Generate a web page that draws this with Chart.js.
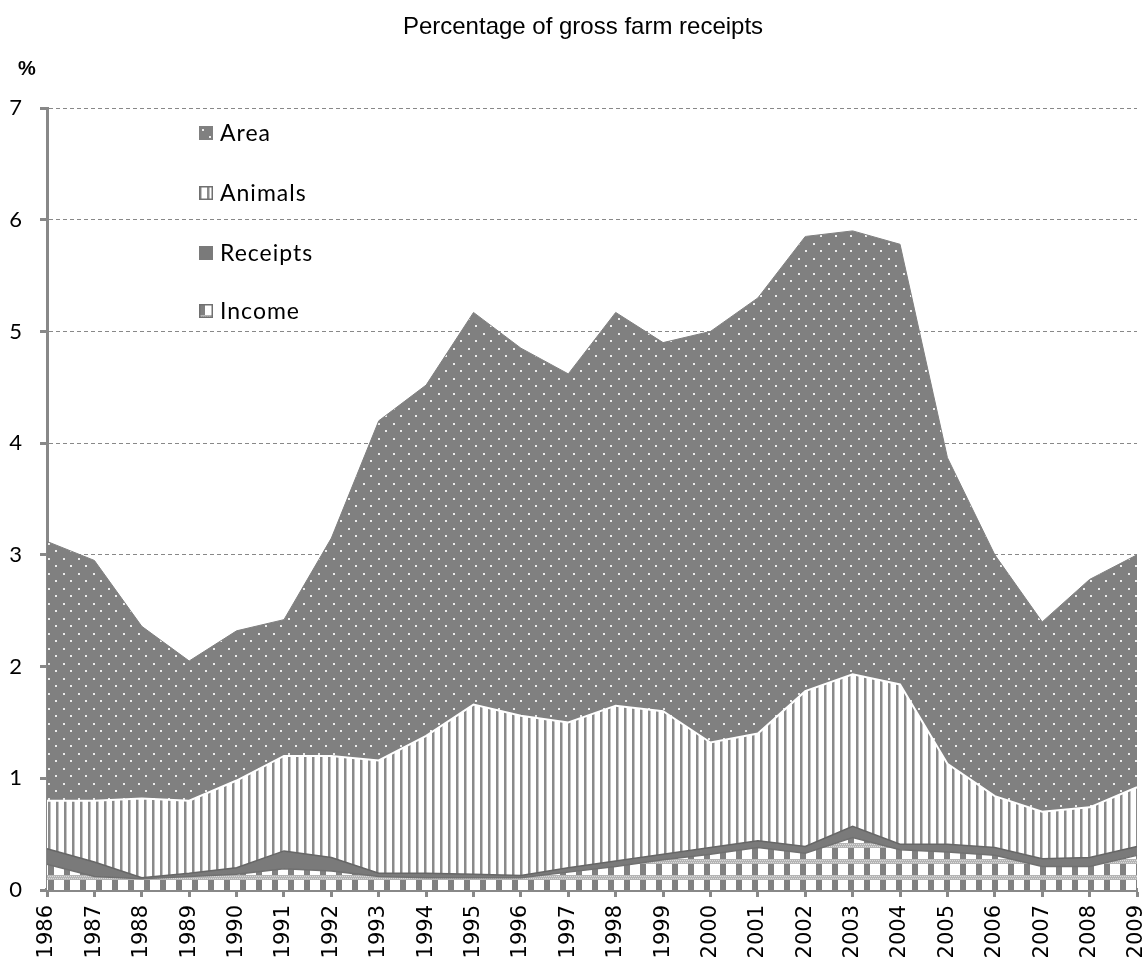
<!DOCTYPE html>
<html>
<head>
<meta charset="utf-8">
<script src="https://cdn.jsdelivr.net/npm/chart.js@4"></script>
<style>
  html, body { margin: 0; padding: 0; background: #fff; }
  #wrap { width: 1147px; height: 961px; position: relative; }
</style>
</head>
<body>
<div id="wrap"><canvas id="farm" width="1147" height="961"></canvas></div>
<script>
// Percentage of gross farm receipts, 1986-2009
var years = ["1986","1987","1988","1989","1990","1991","1992","1993","1994","1995","1996","1997",
             "1998","1999","2000","2001","2002","2003","2004","2005","2006","2007","2008","2009"];

var income   = [0.23,0.12,0.10,0.12,0.14,0.19,0.17,0.12,0.11,0.11,0.11,0.16,0.21,0.27,0.32,0.38,0.33,0.47,0.36,0.34,0.31,0.21,0.21,0.31];
var receipts = [0.14,0.13,0.01,0.03,0.06,0.16,0.12,0.03,0.04,0.03,0.02,0.04,0.05,0.05,0.06,0.06,0.06,0.10,0.05,0.07,0.07,0.07,0.08,0.08];
var animals  = [0.43,0.55,0.71,0.65,0.78,0.85,0.91,1.01,1.23,1.52,1.43,1.30,1.39,1.28,0.94,0.96,1.39,1.36,1.43,0.72,0.46,0.42,0.45,0.53];
var area     = [2.32,2.15,1.54,1.25,1.34,1.22,1.95,3.04,3.14,3.51,3.29,3.12,3.52,3.30,3.68,3.90,4.07,3.97,3.94,2.74,2.16,1.70,2.04,2.08];

var yTicks = [0,1,2,3,4,5,6,7];

var GREY = '#808080';

// ---- fill patterns (Excel style)
function makePattern(w, h, draw) {
	var c = document.createElement('canvas');
	c.width = w; c.height = h;
	var g = c.getContext('2d');
	draw(g);
	return g.createPattern(c, 'repeat');
}

var dotsPat = makePattern(15, 15, function(g) {
	g.fillStyle = GREY; g.fillRect(0, 0, 15, 15);
	g.fillStyle = '#ececec';
	g.fillRect(3, 3, 2, 2);
	g.fillRect(10, 10, 2, 2);
});

var stripePat = makePattern(8, 4, function(g) {
	g.fillStyle = '#fff'; g.fillRect(0, 0, 8, 4);
	g.fillStyle = '#8a8a8a'; g.fillRect(0, 0, 2, 4);
	g.fillStyle = '#c4c4c4'; g.fillRect(2, 0, 1, 4);
});

var checkPat = makePattern(16, 16, function(g) {
	g.fillStyle = '#fff'; g.fillRect(0, 0, 16, 16);
	g.fillStyle = GREY; g.fillRect(0, 0, 6, 11);
	g.fillStyle = '#b4b4b4'; g.fillRect(0, 11, 16, 5);
	g.fillStyle = '#dcdcdc';
	for (var i = 0; i < 16; i += 2) { g.fillRect(i, 12, 1, 1); g.fillRect(i + 1, 14, 1, 1); }
});

// ---- legend drawn inside the plot, order top->bottom: Area, Animals, Receipts, Income
var insideLegend = {
	id: 'insideLegend',
	afterDraw: function(chart) {
		var ctx = chart.ctx;
		var rows = [3, 2, 1, 0];
		var ys = [133, 193, 253, 311];
		ctx.save();
		ctx.font = '23px Lato';
		ctx.letterSpacing = '1px';
		ctx.textBaseline = 'middle';
		rows.forEach(function(di, i) {
			var ds = chart.data.datasets[di];
			var y = ys[i];
			ctx.save();
			ctx.translate(199, y - 7);
			ctx.fillStyle = ds.backgroundColor;
			ctx.fillRect(0, 0, 14, 14);
			if (di === 2 || di === 0) {
				ctx.strokeStyle = '#707070'; ctx.lineWidth = 1.5;
				ctx.strokeRect(0.75, 0.75, 12.5, 12.5);
			}
			ctx.restore();
			ctx.fillStyle = '#000';
			ctx.fillText(ds.label, 220, y + 1);
		});
		ctx.restore();
	}
};

// ---- title and unit label
var headings = {
	id: 'headings',
	afterDraw: function(chart) {
		var ctx = chart.ctx;
		ctx.save();
		ctx.fillStyle = '#000';
		ctx.textBaseline = 'alphabetic';
		ctx.textAlign = 'center';
		ctx.font = '24px "Liberation Sans", Arial';
		ctx.fillText('Percentage of gross farm receipts', 583, 34);
		ctx.textAlign = 'left';
		ctx.font = 'bold 20px "Liberation Sans", Arial';
		ctx.fillText('%', 18, 75);
		ctx.restore();
	}
};

var ctxFarm = document.getElementById('farm').getContext('2d');
var farm = new Chart(ctxFarm, {
	type: 'line',
	data: {
		labels: years,
		datasets: [{
			label: 'Income',
			data: income,
			backgroundColor: checkPat,
			borderColor: '#707070',
			borderWidth: 1.5,
			fill: 'origin'
		}, {
			label: 'Receipts',
			data: receipts,
			backgroundColor: '#7a7a7a',
			borderColor: '#666',
			borderWidth: 1.5,
			fill: '-1'
		}, {
			label: 'Animals',
			data: animals,
			backgroundColor: stripePat,
			borderColor: '#ffffff',
			borderWidth: 2,
			fill: '-1'
		}, {
			label: 'Area',
			data: area,
			backgroundColor: dotsPat,
			borderColor: GREY,
			borderWidth: 1,
			fill: '-1'
		}]
	},
	options: {
		responsive: false,
		animation: false,
		layout: { padding: { top: 108, right: 10, left: 0, bottom: 0 } },
		elements: {
			point: { radius: 0, hoverRadius: 0 },
			line: { tension: 0 }
		},
		plugins: {
			legend: { display: false },
			tooltip: { enabled: false }
		},
		scales: {
			x: {
				offset: false,
				grid: {
					display: true,
					drawOnChartArea: false,
					drawTicks: true,
					tickLength: 7,
					tickColor: '#888',
					tickWidth: 3
				},
				border: { display: true, color: '#888', width: 4 },
				ticks: {
					color: '#000',
					font: { family: 'DejaVu Sans', size: 21 },
					minRotation: 90,
					maxRotation: 90,
					autoSkip: false,
					padding: 8
				},
				afterFit: function(s) { s.height = 71; s.paddingLeft = 0; s.paddingRight = 0; }
			},
			y: {
				stacked: true,
				min: 0,
				max: 7,
				afterBuildTicks: function(s) { s.ticks = yTicks.map(function(v) { return { value: v }; }); },
				grid: {
					color: '#888',
					lineWidth: 1,
					tickLength: 7,
					tickColor: '#888',
					tickWidth: 3,
					tickBorderDash: []
				},
				border: { display: true, color: '#888', width: 3, dash: [4, 3] },
				ticks: {
					color: '#000',
					font: { family: 'Lato', size: 22 },
					padding: 18
				},
				afterFit: function(s) { s.width = 47; }
			}
		}
	},
	plugins: [insideLegend, headings]
});
</script>
</body>
</html>
